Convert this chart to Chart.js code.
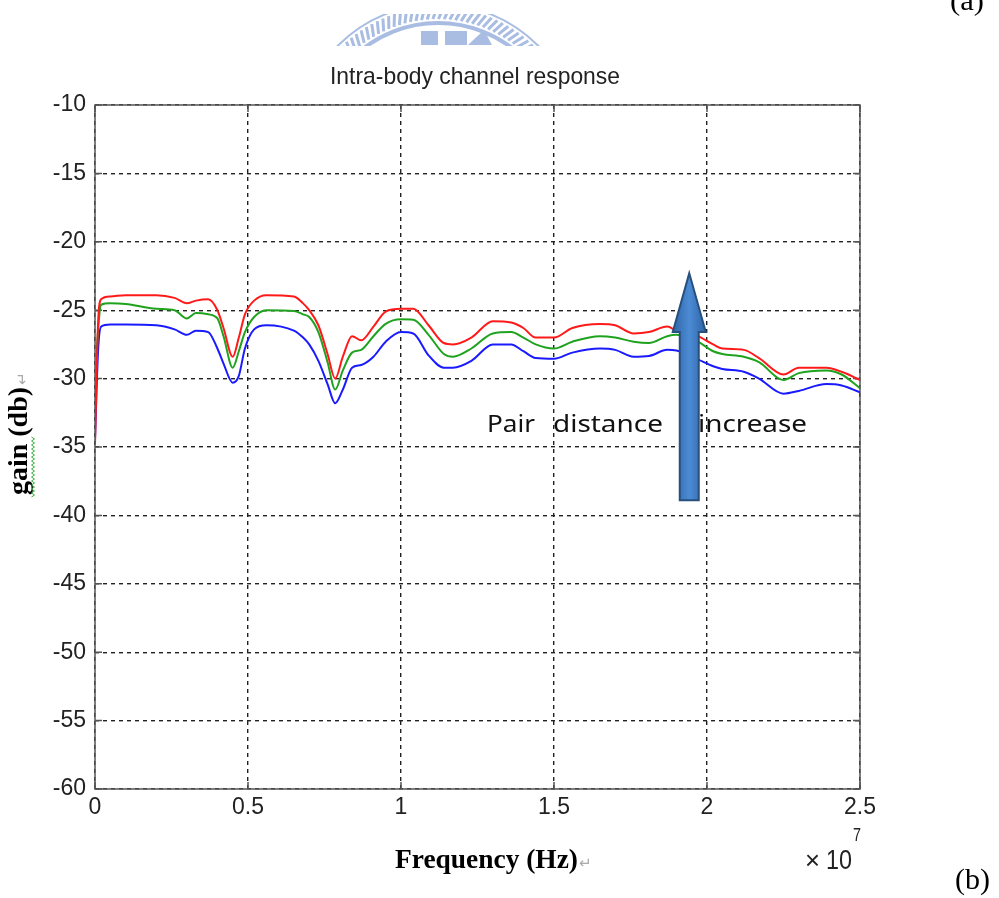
<!DOCTYPE html>
<html>
<head>
<meta charset="utf-8">
<title>Intra-body channel response</title>
<script src="https://cdn.jsdelivr.net/npm/chart.js"></script>
<style>
  html, body { margin: 0; padding: 0; background: #fff; }
  #wrap { width: 999px; height: 898px; position: relative; }
</style>
</head>
<body>
<div id="wrap"><canvas id="gainChart" width="999" height="898"></canvas></div>
<script>
// frequency axis, in units of 1e7 Hz
const freq = [0, 0.01, 0.02, 0.05, 0.1, 0.2, 0.26, 0.3, 0.33, 0.37, 0.4, 0.42, 0.45, 0.47, 0.49,
  0.52, 0.56, 0.65, 0.68, 0.7, 0.73, 0.76, 0.785, 0.81, 0.84, 0.87, 0.91, 0.95, 1.0, 1.04, 1.09,
  1.14, 1.17, 1.23, 1.3, 1.36, 1.4, 1.44, 1.5, 1.56, 1.65, 1.7, 1.76, 1.81, 1.87, 1.9, 1.97,
  2.02, 2.05, 2.12, 2.17, 2.25, 2.3, 2.39, 2.44, 2.5];

// gain (dB) for the three pair distances
const gainRed = [-34.8, -26.0, -24.2, -24.0, -23.9, -23.9, -24.1, -24.5, -24.3, -24.2, -25.0, -26.3, -28.4, -27.0, -25.3,
  -24.3, -23.9, -24.0, -24.5, -25.0, -26.1, -28.2, -30.0, -28.4, -26.9, -27.2, -26.2, -25.1, -24.9, -24.9, -26.1,
  -27.4, -27.5, -27.0, -25.8, -25.9, -26.3, -27.0, -27.0, -26.3, -26.0, -26.1, -26.7, -26.6, -26.2, -26.5, -26.9,
  -27.5, -27.8, -27.9, -28.5, -29.7, -29.2, -29.2, -29.5, -30.1];
const gainGreen = [-30.5, -26.5, -24.6, -24.5, -24.55, -24.9, -25.0, -25.6, -25.2, -25.3, -25.6, -26.9, -29.2, -28.0, -26.6,
  -25.5, -25.0, -25.05, -25.3, -25.5, -26.6, -28.8, -30.8, -29.4, -28.1, -27.9, -26.9, -26.0, -25.67, -25.7, -26.8,
  -28.2, -28.4, -27.8, -26.7, -26.6, -27.0, -27.5, -27.8, -27.3, -26.9, -27.0, -27.3, -27.4, -26.9, -26.8, -27.3,
  -28.0, -28.2, -28.4, -28.8, -30.1, -29.6, -29.4, -29.7, -30.7];
const gainBlue = [-34.5, -28.0, -26.2, -26.05, -26.05, -26.1, -26.4, -26.8, -26.5, -26.6, -27.8, -28.9, -30.3, -29.8, -27.8,
  -26.4, -26.1, -26.5, -27.0, -27.5, -28.7, -30.4, -31.8, -30.8, -29.2, -29.0, -28.4, -27.3, -26.6, -26.7, -28.3,
  -29.2, -29.2, -28.7, -27.5, -27.5, -28.0, -28.5, -28.55, -28.1, -27.8, -27.9, -28.4, -28.35, -27.9, -27.95, -28.6,
  -29.1, -29.3, -29.5, -30.0, -31.1, -30.9, -30.4, -30.5, -31.0];

const xTicks = [0, 0.5, 1, 1.5, 2, 2.5];
const xTickLabels = ['0', '0.5', '1', '1.5', '2', '2.5'];
const yTicks = [-60, -55, -50, -45, -40, -35, -30, -25, -20, -15, -10];
const yTickLabels = ['-60', '-55', '-50', '-45', '-40', '-35', '-30', '-25', '-20', '-15', '-10'];

// narrow sans if the machine has it, otherwise plain Liberation Sans
function hasFont(name) {
  const c = document.createElement('canvas').getContext('2d');
  c.font = '40px monospace';
  const a = c.measureText('abcdefghij0123456789').width;
  c.font = '40px "' + name + '", monospace';
  return c.measureText('abcdefghij0123456789').width !== a;
}
const narrow = hasFont('Liberation Sans Narrow');
const tickFont = narrow ? { family: '"Liberation Sans Narrow"', size: 27 } : { family: '"Liberation Sans", Arial', size: 23 };

function toPoints(vals) {
  return freq.map((f, i) => ({ x: f, y: vals[i] }));
}

// draw text squeezed/stretched to a given width
function fitText(ctx, text, x, y, w, font) {
  ctx.font = font;
  const m = ctx.measureText(text).width;
  ctx.save();
  ctx.translate(x, y);
  ctx.scale(w / m, 1);
  ctx.fillText(text, 0, 0);
  ctx.restore();
}

// faint university seal at the top, cut off by the page crop
function drawLogo(ctx) {
  ctx.save();
  ctx.beginPath();
  ctx.rect(320, 14, 240, 32);
  ctx.clip();
  const cx = 438, cy = 145;
  ctx.strokeStyle = '#a9bde3';
  ctx.fillStyle = '#a9bde3';
  ctx.lineWidth = 2;
  ctx.beginPath();
  ctx.arc(cx, cy, 141, Math.PI, 2 * Math.PI);
  ctx.stroke();
  ctx.lineWidth = 4;
  ctx.beginPath();
  ctx.arc(cx, cy, 122, Math.PI, 2 * Math.PI);
  ctx.stroke();
  ctx.lineWidth = 3;
  for (let a = Math.PI; a < 2 * Math.PI; a += 0.045) {
    ctx.beginPath();
    ctx.moveTo(cx + Math.cos(a) * 126, cy + Math.sin(a) * 126);
    ctx.lineTo(cx + Math.cos(a + 0.035) * 138, cy + Math.sin(a + 0.035) * 138);
    ctx.stroke();
  }
  ctx.fillRect(421, 31, 17, 14);
  ctx.fillRect(445, 31, 22, 14);
  ctx.beginPath();
  ctx.moveTo(468, 45);
  ctx.lineTo(484, 30);
  ctx.lineTo(492, 45);
  ctx.closePath();
  ctx.fill();
  ctx.restore();
}

const decorations = {
  id: 'decorations',
  beforeDatasetsDraw(chart) {
    const ctx = chart.ctx;
    const a = chart.chartArea;
    const xs = chart.scales.x, ys = chart.scales.y;
    ctx.save();
    ctx.strokeStyle = '#555';
    ctx.lineWidth = 1.5;
    ctx.strokeRect(a.left, a.top, a.right - a.left, a.bottom - a.top);
    // inward tick marks on all four sides
    ctx.beginPath();
    yTicks.forEach(v => {
      const p = ys.getPixelForValue(v);
      ctx.moveTo(a.left, p); ctx.lineTo(a.left + 7, p);
      ctx.moveTo(a.right, p); ctx.lineTo(a.right - 7, p);
    });
    xTicks.forEach(v => {
      const p = xs.getPixelForValue(v);
      ctx.moveTo(p, a.bottom); ctx.lineTo(p, a.bottom - 7);
      ctx.moveTo(p, a.top); ctx.lineTo(p, a.top + 7);
    });
    ctx.stroke();
    ctx.restore();
  },
  afterDatasetsDraw(chart) {
    const ctx = chart.ctx;
    const xs = chart.scales.x, ys = chart.scales.y;
    ctx.save();
    ctx.textBaseline = 'alphabetic';
    ctx.textAlign = 'left';

    drawLogo(ctx);

    // title
    ctx.fillStyle = '#222';
    fitText(ctx, 'Intra-body channel response', 330, 84, 290, '24px "Liberation Sans", Arial');

    // panel letters
    ctx.fillStyle = '#000';
    fitText(ctx, '(a)', 950, 10, 34, '28px "Liberation Serif", serif');
    fitText(ctx, '(b)', 955, 889, 35, '30px "Liberation Serif", serif');

    // x axis label and exponent
    fitText(ctx, 'Frequency (Hz)', 395, 868, 183, 'bold 27px "Liberation Serif", serif');
    ctx.fillStyle = '#aaa';
    ctx.font = '15px "DejaVu Sans"';
    ctx.fillText('\u21b5', 579, 868);
    ctx.fillStyle = '#222';
    fitText(ctx, '\u00d7', 805, 869, 15, '26px "Liberation Sans", Arial');
    fitText(ctx, '10', 826, 869, 26, '28px "Liberation Sans", Arial');
    fitText(ctx, '7', 853, 841, 8, '18px "Liberation Sans", Arial');

    // y axis label, rotated
    ctx.save();
    ctx.translate(27, 495);
    ctx.rotate(-Math.PI / 2);
    ctx.fillStyle = '#000';
    fitText(ctx, 'gain (db)', 0, 0, 108, 'bold 28px "Liberation Serif", serif');
    ctx.fillStyle = '#aaa';
    ctx.font = '15px "DejaVu Sans"';
    ctx.fillText('\u21b5', 110, 0);
    ctx.restore();
    // spell-check squiggle under "gain"
    ctx.strokeStyle = '#3cab3c';
    ctx.lineWidth = 1;
    ctx.beginPath();
    for (let y = 497, k = 0; y >= 437; y -= 2, k++) {
      const x = 33 + (k % 2 ? 1.5 : -1.5);
      if (k === 0) ctx.moveTo(x, y); else ctx.lineTo(x, y);
    }
    ctx.stroke();

    // annotation text
    ctx.fillStyle = '#111';
    const tf = '24px "Noto Sans", "Open Sans", sans-serif';
    fitText(ctx, 'Pair', 487, 432, 48, tf);
    fitText(ctx, 'distance', 553, 432, 110, tf);
    fitText(ctx, 'increase', 698, 432, 109, tf);

    // block arrow pointing up, placed in data coordinates
    const cx = xs.getPixelForValue(1.942);
    const tip = ys.getPixelForValue(-22.3);
    const base = ys.getPixelForValue(-26.6);
    const bottom = ys.getPixelForValue(-38.9);
    const sw = 9.5, hw = 16.5;
    const grad = ctx.createLinearGradient(cx - hw, 0, cx + hw, 0);
    grad.addColorStop(0, '#2f64a6');
    grad.addColorStop(0.5, '#4b8bd4');
    grad.addColorStop(1, '#2f64a6');
    ctx.beginPath();
    ctx.moveTo(cx, tip);
    ctx.lineTo(cx + hw, base);
    ctx.lineTo(cx + sw, base);
    ctx.lineTo(cx + sw, bottom);
    ctx.lineTo(cx - sw, bottom);
    ctx.lineTo(cx - sw, base);
    ctx.lineTo(cx - hw, base);
    ctx.closePath();
    ctx.fillStyle = grad;
    ctx.fill();
    ctx.strokeStyle = '#27507f';
    ctx.lineWidth = 2;
    ctx.stroke();
    ctx.restore();
  }
};

const lineStyle = { borderWidth: 2, pointRadius: 0, fill: false, cubicInterpolationMode: 'monotone' };

const ctx = document.getElementById('gainChart').getContext('2d');
new Chart(ctx, {
  type: 'line',
  data: {
    datasets: [
      Object.assign({ label: 'near', data: toPoints(gainRed), borderColor: '#ff1a1a' }, lineStyle),
      Object.assign({ label: 'middle', data: toPoints(gainGreen), borderColor: '#1fa31f' }, lineStyle),
      Object.assign({ label: 'far', data: toPoints(gainBlue), borderColor: '#1a1aff' }, lineStyle)
    ]
  },
  options: {
    responsive: false,
    animation: false,
    layout: { padding: { left: 0, top: 105, right: 139, bottom: 0 } },
    plugins: {
      legend: { display: false },
      title: { display: false },
      tooltip: { enabled: false }
    },
    scales: {
      x: {
        type: 'linear',
        min: 0,
        max: 2.5,
        afterFit: s => { s.height = 109; },
        afterBuildTicks: s => { s.ticks = xTicks.map(v => ({ value: v })); },
        grid: { color: '#222', lineWidth: 1.4, drawTicks: false },
        border: { display: false, dash: [4, 4] },
        ticks: {
          padding: 5,
          maxRotation: 0,
          autoSkip: false,
          color: '#222',
          font: tickFont,
          callback: v => xTickLabels[xTicks.indexOf(v)]
        }
      },
      y: {
        type: 'linear',
        min: -60,
        max: -10,
        afterFit: s => { s.width = 95; },
        afterBuildTicks: s => { s.ticks = yTicks.map(v => ({ value: v })); },
        grid: { color: '#222', lineWidth: 1.4, drawTicks: false },
        border: { display: false, dash: [4, 4] },
        ticks: {
          padding: 9,
          autoSkip: false,
          color: '#222',
          font: tickFont,
          callback: v => yTickLabels[yTicks.indexOf(v)]
        }
      }
    }
  },
  plugins: [decorations]
});
</script>
</body>
</html>
